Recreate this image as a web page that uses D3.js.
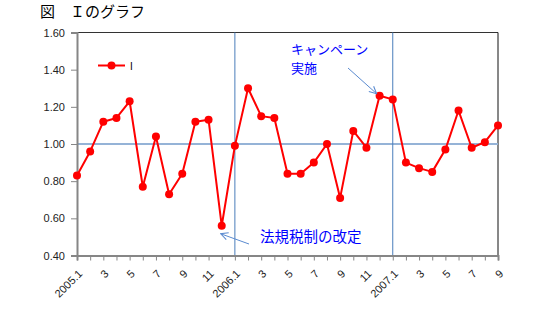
<!DOCTYPE html>
<html>
<head>
<meta charset="utf-8">
<script src="https://cdn.jsdelivr.net/npm/d3@7"></script>
<style>
html,body{margin:0;padding:0;background:#fff;}
svg{display:block;}
</style>
</head>
<body>
<svg id="chart" width="542" height="324"></svg>
<script>
const months = ["2005.1","2","3","4","5","6","7","8","9","10","11","12",
                "2006.1","2","3","4","5","6","7","8","9","10","11","12",
                "2007.1","2","3","4","5","6","7","8","9"];
const valuesI = [0.83,0.96,1.12,1.14,1.23,0.77,1.04,0.73,0.84,1.12,1.13,0.56,
                 0.99,1.30,1.15,1.14,0.84,0.84,0.90,1.00,0.71,1.07,0.98,1.26,
                 1.24,0.90,0.87,0.85,0.97,1.18,0.98,1.01,1.10];
const yTicks = [0.40,0.60,0.80,1.00,1.20,1.40,1.60];
const seriesName = "I";
const titleText = "図　Ｉのグラフ";
const markerIdx = [12, 24];        // vertical reference lines (2006.1, 2007.1)
const refValue = 1.00;
const notes = [
  {lines:["キャンペーン","実施"], idx:23},
  {lines:["法規税制の改定"], idx:11}
];

const svg = d3.select("#chart");
const L = 77, R = 498, T = 32.5, B = 255.5;
const idx = d3.range(months.length);
const x = d3.scalePoint().domain(idx).range([L, R]);
const y = d3.scaleLinear().domain([0.4, 1.6]).range([B, T]);
const labFont = "'Liberation Sans', Arial, sans-serif";
const jpFont = "'Noto Sans CJK JP', sans-serif";

// title
svg.append("text").attr("x", 40).attr("y", 17)
  .attr("font-family", jpFont).attr("font-size", 15).attr("fill", "#000")
  .text(titleText);

// frame (top & right)
svg.append("line").attr("x1", L).attr("x2", R).attr("y1", T).attr("y2", T)
  .attr("stroke", "#333").attr("stroke-width", 1);
svg.append("line").attr("x1", R).attr("x2", R).attr("y1", T).attr("y2", B)
  .attr("stroke", "#111").attr("stroke-width", 1);

// reference line at 1.00
svg.append("line").attr("x1", L).attr("x2", R)
  .attr("y1", y(refValue)).attr("y2", y(refValue))
  .attr("stroke", "#95b3d7").attr("stroke-width", 2);

// vertical lines
markerIdx.forEach(i => {
  svg.append("line").attr("x1", x(i)).attr("x2", x(i)).attr("y1", T).attr("y2", B)
    .attr("stroke", "#4a7ebb").attr("stroke-width", 1);
});

// y axis
const yAxis = d3.axisLeft(y).tickValues(yTicks).tickFormat(d3.format(".2f"))
  .tickSize(6).tickPadding(6);
const gy = svg.append("g").attr("transform", `translate(${L},0)`).call(yAxis);
gy.select(".domain").attr("stroke", "#868686").attr("stroke-width", 2);
gy.selectAll(".tick line").attr("stroke", "#868686");
gy.selectAll(".tick text").attr("font-family", labFont).attr("font-size", 11).attr("fill", "#222");

// x axis
const xAxis = d3.axisBottom(x).tickSize(5).tickFormat("");
const gx = svg.append("g").attr("transform", `translate(0,${B})`).call(xAxis);
gx.select(".domain").attr("stroke", "#868686").attr("stroke-width", 2);
gx.selectAll(".tick line").attr("stroke", "#868686");
svg.append("g").selectAll("text").data(idx.filter(i => i % 2 === 0)).join("text")
  .attr("transform", i => `translate(${x(i) + 6},${B + 19}) rotate(-45)`)
  .attr("text-anchor", "end")
  .attr("font-family", labFont).attr("font-size", 11).attr("fill", "#222")
  .text(i => months[i]);

// series
const line = d3.line().x((d, i) => x(i)).y(d => y(d));
svg.append("path").datum(valuesI).attr("d", line)
  .attr("fill", "none").attr("stroke", "#ff0000").attr("stroke-width", 2)
  .attr("stroke-linejoin", "round");
svg.append("g").selectAll("circle").data(valuesI).join("circle")
  .attr("cx", (d, i) => x(i)).attr("cy", d => y(d)).attr("r", 4)
  .attr("fill", "#ff0000");

// legend
svg.append("line").attr("x1", 98).attr("x2", 125).attr("y1", 65.5).attr("y2", 65.5)
  .attr("stroke", "#ff0000").attr("stroke-width", 2);
svg.append("circle").attr("cx", 111.5).attr("cy", 65.5).attr("r", 4).attr("fill", "#ff0000");
svg.append("text").attr("x", 130).attr("y", 69.5)
  .attr("font-family", labFont).attr("font-size", 10).attr("fill", "#000").text(seriesName);

// arrows
const defs = svg.append("defs");
defs.append("marker").attr("id", "arr").attr("viewBox", "0 0 10 10")
  .attr("refX", 9).attr("refY", 5).attr("markerWidth", 9).attr("markerHeight", 9)
  .attr("markerUnits", "userSpaceOnUse").attr("orient", "auto")
  .append("path").attr("d", "M1,1 L9,5 L1,9").attr("fill", "none")
  .attr("stroke", "#5b8bd0").attr("stroke-width", 1.2);

// note 1: campaign
const n1 = notes[0];
svg.append("g").selectAll("text").data(n1.lines).join("text")
  .attr("x", 291).attr("y", (d, i) => 54 + i * 19)
  .attr("font-family", jpFont).attr("font-size", 13).attr("fill", "#0000ff").text(d => d);
svg.append("line").attr("x1", 348).attr("y1", 68)
  .attr("x2", x(n1.idx) - 3).attr("y2", y(valuesI[n1.idx]) - 2)
  .attr("stroke", "#5b8bd0").attr("stroke-width", 1).attr("marker-end", "url(#arr)");

// note 2: law change
const n2 = notes[1];
svg.append("text").attr("x", 260).attr("y", 242)
  .attr("font-family", jpFont).attr("font-size", 14.5).attr("fill", "#0000ff").text(n2.lines[0]);
svg.append("line").attr("x1", 249).attr("y1", 244)
  .attr("x2", x(n2.idx) - 1).attr("y2", y(valuesI[n2.idx]) + 8)
  .attr("stroke", "#5b8bd0").attr("stroke-width", 1).attr("marker-end", "url(#arr)");
</script>
</body>
</html>
